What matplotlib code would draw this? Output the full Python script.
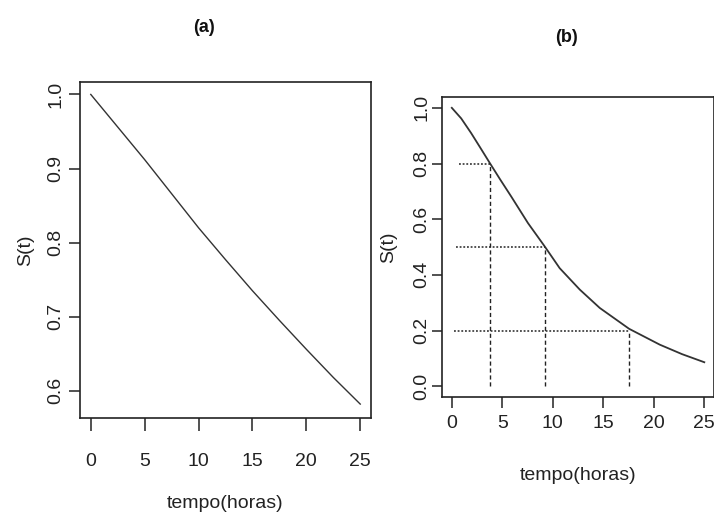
import matplotlib
matplotlib.use("Agg")
import matplotlib.pyplot as plt

plt.rcParams["font.family"] = ["Liberation Sans", "DejaVu Sans"]

# Panel (a) survival curve
t_a = [0, 2.5, 5, 7.5, 10, 12.5, 15, 17.5, 20, 22.5, 25]
s_a = [1.0, 0.956, 0.912, 0.866, 0.820, 0.777, 0.735, 0.695, 0.656, 0.618, 0.582]

# Panel (b) survival curve
t_b = [0, 0.93, 1.92, 2.8, 3.74, 4.8, 5.89, 7.54, 9.2, 10.68, 12.67, 14.65, 17.56, 20.6, 22.8, 25]
s_b = [1.0, 0.962, 0.909, 0.858, 0.803, 0.742, 0.681, 0.586, 0.502, 0.424, 0.347, 0.281, 0.206, 0.149, 0.115, 0.086]

# Reference quantiles in panel (b)
q_levels = [0.8, 0.5, 0.2]
q_times = [3.74, 9.2, 17.56]
q_start = [0.7, 0.4, 0.2]

xticks = [0, 5, 10, 15, 20, 25]
yticks_a = [0.6, 0.7, 0.8, 0.9, 1.0]
yticks_b = [0.0, 0.2, 0.4, 0.6, 0.8, 1.0]

W, H = 714, 518
fig = plt.figure(figsize=(W / 100, H / 100), dpi=100)

def fx(p):
    return p / W

def fy(p):
    return 1 - p / H

ax1 = fig.add_axes([fx(80), fy(418), fx(371) - fx(80), fy(82) - fy(418)])
ax2 = fig.add_axes([fx(441.7), fy(397.3), fx(714.4) - fx(441.7), fy(96.7) - fy(397.3)])

ax1.plot(t_a, s_a, color="#333333", lw=1.0)
ax1.set_xlim(-1, 26)
ax1.set_ylim(0.5632, 1.0168)
ax1.set_yticks(yticks_a)
ax1.set_yticklabels([f"{v:.1f}" for v in yticks_a])

ax2.plot(t_b, s_b, color="#333333", lw=1.3)
for lvl, tq, ts in zip(q_levels, q_times, q_start):
    ax2.plot([ts, tq], [lvl, lvl], color="#222222", lw=1.1, linestyle=(0, (1.2, 1.2)))
    ax2.plot([tq, tq], [0, lvl], color="#222222", lw=1.0, linestyle=(0, (3, 2)))
ax2.set_xlim(-1, 26)
ax2.set_ylim(-0.04, 1.04)
ax2.set_yticks(yticks_b)
ax2.set_yticklabels([f"{v:.1f}" for v in yticks_b])

for ax in (ax1, ax2):
    ax.set_xticks(xticks)
    ax.set_xticklabels([str(v) for v in xticks])
    for s in ax.spines.values():
        s.set_linewidth(1.2)
        s.set_color("#222222")
    for lab in ax.get_yticklabels():
        lab.set_rotation(90)
        lab.set_va("center")

ax1.tick_params(axis="x", length=9, width=1.1, labelsize=14, pad=16, colors="#222222")
ax1.tick_params(axis="y", length=8, width=1.1, labelsize=14, pad=3, colors="#222222")
ax2.tick_params(axis="x", length=8, width=1.1, labelsize=14, pad=5, colors="#222222")
ax2.tick_params(axis="y", length=7, width=1.1, labelsize=14, pad=1, colors="#222222")

ax1.set_xlabel("tempo(horas)", fontsize=14, labelpad=18.5, color="#222222")
ax1.set_ylabel("S(t)", fontsize=14, labelpad=9.5, color="#222222")
ax2.set_xlabel("tempo(horas)", fontsize=14, labelpad=25, color="#222222")
ax2.set_ylabel("S(t)", fontsize=14, labelpad=11.5, color="#222222")

fig.text(fx(203.5), fy(27), "(a)", ha="center", va="center", fontsize=13, fontweight="bold", color="#111111")
fig.text(fx(566), fy(37), "(b)", ha="center", va="center", fontsize=13, fontweight="bold", color="#111111")

fig.savefig("out.png", dpi=100)
